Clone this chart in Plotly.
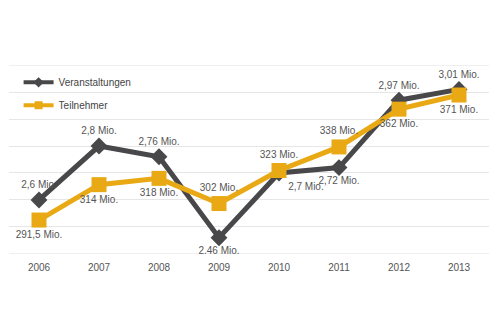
import plotly.graph_objects as go

years = ["2006", "2007", "2008", "2009", "2010", "2011", "2012", "2013"]
veranstaltungen = [2.6, 2.8, 2.76, 2.46, 2.7, 2.72, 2.97, 3.01]
teilnehmer = [291.5, 314, 318, 302, 323, 338, 362, 371]
v_labels = ["2,6 Mio.", "2,8 Mio.", "2,76 Mio.", "2,46 Mio.", "2,7 Mio.", "2,72 Mio.", "2,97 Mio.", "3,01 Mio."]
t_labels = ["291,5 Mio.", "314 Mio.", "318 Mio.", "302 Mio.", "323 Mio.", "338 Mio.", "362 Mio.", "371 Mio."]
v_pos = ["top center", "top center", "top center", "bottom center", "bottom right", "bottom center", "top center", "top center"]
t_pos = ["bottom center", "bottom center", "bottom center", "top center", "top center", "top center", "bottom center", "bottom center"]
y_min, y_max = 2.4, 3.1

dark = "#48484a"
yellow = "#e9a914"
txt = "#555555"
grid = "#e6e6e6"
fnt = "Liberation Sans, Arial, sans-serif"

fig = go.Figure()
fig.add_trace(go.Scatter(
    x=years, y=teilnehmer, name="Teilnehmer", yaxis="y2", showlegend=False,
    mode="lines+markers+text", text=t_labels, textposition=t_pos,
    textfont=dict(size=10, color=txt),
    line=dict(color=yellow, width=5),
    marker=dict(symbol="square", size=15, color=yellow),
))
fig.add_trace(go.Scatter(
    x=years, y=veranstaltungen, name="Veranstaltungen", showlegend=False,
    mode="lines+markers+text", text=v_labels, textposition=v_pos,
    textfont=dict(size=10, color=txt),
    line=dict(color=dark, width=5),
    marker=dict(symbol="diamond", size=13, color=dark),
))
# legend entries
fig.add_trace(go.Scatter(
    x=[None], y=[None], name="Teilnehmer", legendgroup="t", legendrank=2,
    mode="lines+markers", line=dict(color=yellow, width=4),
    marker=dict(symbol="square", size=8, color=yellow),
))
fig.add_trace(go.Scatter(
    x=[None], y=[None], name="Veranstaltungen", legendgroup="v", legendrank=1,
    mode="lines+markers", line=dict(color=dark, width=4),
    marker=dict(symbol="diamond", size=8, color=dark),
))

for yv in (y_min, y_max):
    fig.add_hline(y=yv, line=dict(color=grid, width=1), layer="below")

fig.update_layout(
    width=500, height=333,
    margin=dict(l=9, r=11, t=65, b=79),
    paper_bgcolor="white", plot_bgcolor="white",
    font=dict(family=fnt, size=10, color=txt),
    showlegend=True,
    legend=dict(x=0.02, y=0.985, xanchor="left", yanchor="top",
                traceorder="grouped", bgcolor="rgba(0,0,0,0)",
                font=dict(family=fnt, size=10, color="#444444"), tracegroupgap=4),
    xaxis=dict(type="category", range=[-0.5, 7.5], showgrid=False,
               showline=False, zeroline=False, ticks="", ticklabelstandoff=6,
               tickfont=dict(family=fnt, size=10, color=txt)),
    yaxis=dict(range=[y_min - 0.0005, y_max + 0.0005], tick0=2.4, dtick=0.1, showgrid=True,
               gridcolor=grid, gridwidth=1, showticklabels=False,
               zeroline=False, showline=False),
    yaxis2=dict(range=[269.914, 390.086], overlaying="y", showgrid=False,
                showticklabels=False, zeroline=False, showline=False),
)

fig.write_html("out.html")
